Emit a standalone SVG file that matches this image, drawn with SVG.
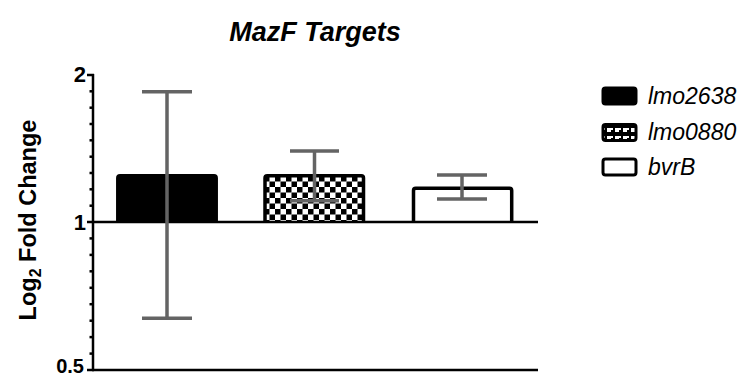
<svg xmlns="http://www.w3.org/2000/svg" width="748" height="378" viewBox="0 0 748 378">
<defs>
<pattern id="checker" patternUnits="userSpaceOnUse" x="0" y="0" width="11" height="11">
<rect width="11" height="11" fill="#fff"/>
<rect width="5.5" height="5.5" fill="#000"/>
<rect x="5.5" y="5.5" width="5.5" height="5.5" fill="#000"/>
</pattern>
<pattern id="checkerSmall" patternUnits="userSpaceOnUse" x="603" y="124" width="8" height="8">
<rect width="8" height="8" fill="#000"/>
<rect x="4" y="4" width="4" height="4" fill="#fff"/>
<rect x="0" y="4" width="2" height="2" fill="#fff"/>
</pattern>
<style>
.axis{stroke:#000;stroke-width:2.5;fill:none}
.tick{stroke:#000;stroke-width:2.5}
.bar{stroke:#000;stroke-width:3.5}
.err{stroke:#646464;stroke-width:3.5;fill:none}
.lbl{font-family:"Liberation Sans",Arial,sans-serif;font-weight:bold;fill:#000}
.leg{font-family:"Liberation Sans",Arial,sans-serif;font-style:italic;font-size:23px;fill:#000}
</style>
</defs>
<rect width="748" height="378" fill="#fff"/>
<text class="lbl" x="315" y="41" font-size="27" font-style="italic" text-anchor="middle">MazF Targets</text>
<text class="lbl" transform="translate(36,220) rotate(-90)" font-size="23.5" text-anchor="middle">Log<tspan font-size="16" dy="5">2</tspan><tspan dy="-5"> Fold Change</tspan></text>
<g id="axes">
<line class="axis" x1="93" y1="74" x2="93" y2="371"/>
<line class="axis" x1="92" y1="370" x2="538" y2="370"/>
<line class="tick" x1="87" y1="75" x2="94" y2="75"/>
<line class="tick" x1="87" y1="222" x2="94" y2="222"/>
<line class="tick" x1="87" y1="370" x2="94" y2="370"/>
<g class="tick">
<line x1="89.5" y1="91.3" x2="93" y2="91.3"/>
<line x1="89.5" y1="107.7" x2="93" y2="107.7"/>
<line x1="89.5" y1="124" x2="93" y2="124"/>
<line x1="89.5" y1="140.3" x2="93" y2="140.3"/>
<line x1="89.5" y1="156.7" x2="93" y2="156.7"/>
<line x1="89.5" y1="173" x2="93" y2="173"/>
<line x1="89.5" y1="189.3" x2="93" y2="189.3"/>
<line x1="89.5" y1="205.7" x2="93" y2="205.7"/>
<line x1="89.5" y1="238.4" x2="93" y2="238.4"/>
<line x1="89.5" y1="254.9" x2="93" y2="254.9"/>
<line x1="89.5" y1="271.3" x2="93" y2="271.3"/>
<line x1="89.5" y1="287.8" x2="93" y2="287.8"/>
<line x1="89.5" y1="304.2" x2="93" y2="304.2"/>
<line x1="89.5" y1="320.7" x2="93" y2="320.7"/>
<line x1="89.5" y1="337.1" x2="93" y2="337.1"/>
<line x1="89.5" y1="353.6" x2="93" y2="353.6"/>
</g>
<text class="lbl" x="86" y="82" font-size="22" text-anchor="end">2</text>
<text class="lbl" x="86" y="229.5" font-size="22" text-anchor="end">1</text>
<text class="lbl" x="84" y="373" font-size="20" text-anchor="end">0.5</text>
</g>
<g id="bar-lmo2638">
<path class="bar" fill="#000" d="M117.8,222 V178 Q117.8,175.8 120,175.8 H214 Q216.2,175.8 216.2,178 V222"/>
</g>
<g id="bar-lmo0880">
<path class="bar" fill="url(#checker)" d="M265,222 V178 Q265,175.8 267.2,175.8 H361.3 Q363.5,175.8 363.5,178 V222"/>
</g>
<g id="bar-bvrB">
<path class="bar" fill="#fff" d="M413.5,222 V190.5 Q413.5,188.3 415.7,188.3 H509.5 Q511.7,188.3 511.7,190.5 V222"/>
</g>
<g id="connectors">
<line class="axis" x1="92" y1="222" x2="538" y2="222"/>
<path class="err" d="M142,91.7 H192 M167,91.7 V318.3 M142,318.3 H192"/>
<path class="err" d="M290,151 H339 M314.5,151 V200.7 M290,200.7 H339"/>
<path class="err" d="M437,175 H487 M462,175 V199 M437,199 H487"/>
</g>
<g id="legend">
<g id="legend-lmo2638">
<rect x="603" y="88" width="33" height="16" rx="2.5" fill="#000" stroke="#000" stroke-width="3"/>
<text class="leg" x="648" y="103.5">lmo2638</text>
</g>
<g id="legend-lmo0880">
<rect x="603" y="124.5" width="33" height="16" rx="2.5" fill="url(#checkerSmall)" stroke="#000" stroke-width="3"/>
<text class="leg" x="648" y="140">lmo0880</text>
</g>
<g id="legend-bvrB">
<rect x="603" y="159" width="33" height="16" rx="2.5" fill="#fff" stroke="#000" stroke-width="3"/>
<text class="leg" x="648" y="175">bvrB</text>
</g>
</g>
</svg>
